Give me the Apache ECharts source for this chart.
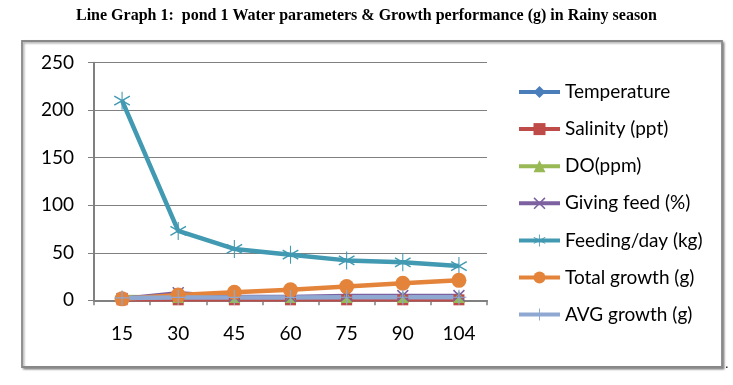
<!DOCTYPE html>
<html><head><meta charset="utf-8">
<script src="https://cdn.jsdelivr.net/npm/echarts@6/dist/echarts.min.js"></script>
<style>html,body{margin:0;padding:0;background:#fff}#c{width:733px;height:385px}</style>
</head><body><div id="c"></div>
<script>
const categories = ['15','30','45','60','75','90','104'];
const temperature = [3, 3, 3, 3, 3, 3, 3];
const salinity = [0.5, 0.5, 0.5, 0.5, 0.5, 0.5, 0.5];
const dissolvedOxygen = [4, 3.5, 3.5, 3.5, 3.5, 3.5, 3.5];
const givingFeed = [2, 8, 4, 4, 5, 5, 5];
const feedingPerDay = [210, 73, 54, 48, 42, 40, 36];
const totalGrowth = [1.5, 5.5, 8.5, 11, 14.5, 18, 21];
const avgGrowth = [2.5, 3, 3, 3, 3.2, 3.2, 3.2];
const yTicks = [0, 50, 100, 150, 200, 250];

const STAR = 'path://M47,0L53,0L53,100L47,100Z M4.7,28.5L8.7,21.5L95.3,71.5L91.3,78.5Z M8.7,78.5L4.7,71.5L91.3,21.5L95.3,28.5Z';
const XMARK = 'path://M11.1,18.1L18.1,11.1L88.9,81.9L81.9,88.9Z M18.1,88.9L11.1,81.9L81.9,11.1L88.9,18.1Z';
const PLUS = 'path://M46,0L54,0L54,100L46,100Z M0,46L100,46L100,54L0,54Z';

const names = ['Temperature','Salinity (ppt)','DO(ppm)','Giving feed (%)','Feeding/day (kg)','Total growth (g)','AVG growth (g)'];
const colors = ['#4A7EBB','#BE4B48','#98B954','#7D60A0','#4299B2','#E3843A','#8EA8D2'];

function mk(i, data, symbol, size, width) {
  const color = colors[i];
  return {name:names[i], type:'line', data, symbol, symbolSize:size, symbolKeepAspect:true, showSymbol:true,
    lineStyle:{color, width}, itemStyle:{color, borderWidth:0}, emphasis:{disabled:true}};
}
const chart = echarts.init(document.getElementById('c'), null, {renderer:'canvas'});
chart.setOption({
  animation:false,
  title:{text:'Line Graph 1:  pond 1 Water parameters & Growth performance (g) in Rainy season',
    left:'center', top:3, textStyle:{fontFamily:'Liberation Serif', fontWeight:'bold', fontSize:16, color:'#000'}},
  graphic:[
    {type:'rect', shape:{x:22, y:41, width:700, height:326},
      style:{fill:'#fff', stroke:'#888', lineWidth:1.8, shadowColor:'rgba(0,0,0,0.35)', shadowBlur:2, shadowOffsetX:1.5, shadowOffsetY:1.5}, z:-10},
    {type:'text', x:725, y:358, style:{text:'.', fontSize:13, fill:'#000'}}
  ],
  grid:{left:94, right:246, top:62.7, bottom:84.7},
  legend:{orient:'vertical', left:512, top:76, itemWidth:41, itemHeight:15, itemGap:15.1,
    lineStyle:{width:4},
    data: names.map(n => ({name:n})),
    textStyle:{fontFamily:'Lato', fontSize:19, color:'#000', lineHeight:22}},
  xAxis:{type:'category', data:categories, boundaryGap:true,
    axisLine:{lineStyle:{color:'#808080', width:2}},
    axisTick:{show:true, length:5, lineStyle:{color:'#808080', width:1.5}},
    axisLabel:{fontFamily:'Lato', fontSize:19, color:'#000', margin:24}},
  yAxis:{type:'value', min:yTicks[0], max:yTicks[yTicks.length-1], interval:50,
    axisLine:{show:true, lineStyle:{color:'#808080', width:2}},
    axisTick:{show:true, length:6, lineStyle:{color:'#808080', width:1}},
    splitLine:{lineStyle:{color:'#808080', width:1}},
    axisLabel:{fontFamily:'Lato', fontSize:19, color:'#000', margin:20}},
  series:[
    mk(0, temperature, 'diamond', 12, 3.5),
    mk(1, salinity, 'rect', 11, 3.5),
    mk(2, dissolvedOxygen, 'triangle', 12, 3.5),
    mk(3, givingFeed, XMARK, 12, 3.5),
    mk(4, feedingPerDay, STAR, 18, 4.5),
    mk(5, totalGrowth, 'circle', 15, 4.5),
    mk(6, avgGrowth, PLUS, 15, 4.5)
  ]
});
</script></body></html>
